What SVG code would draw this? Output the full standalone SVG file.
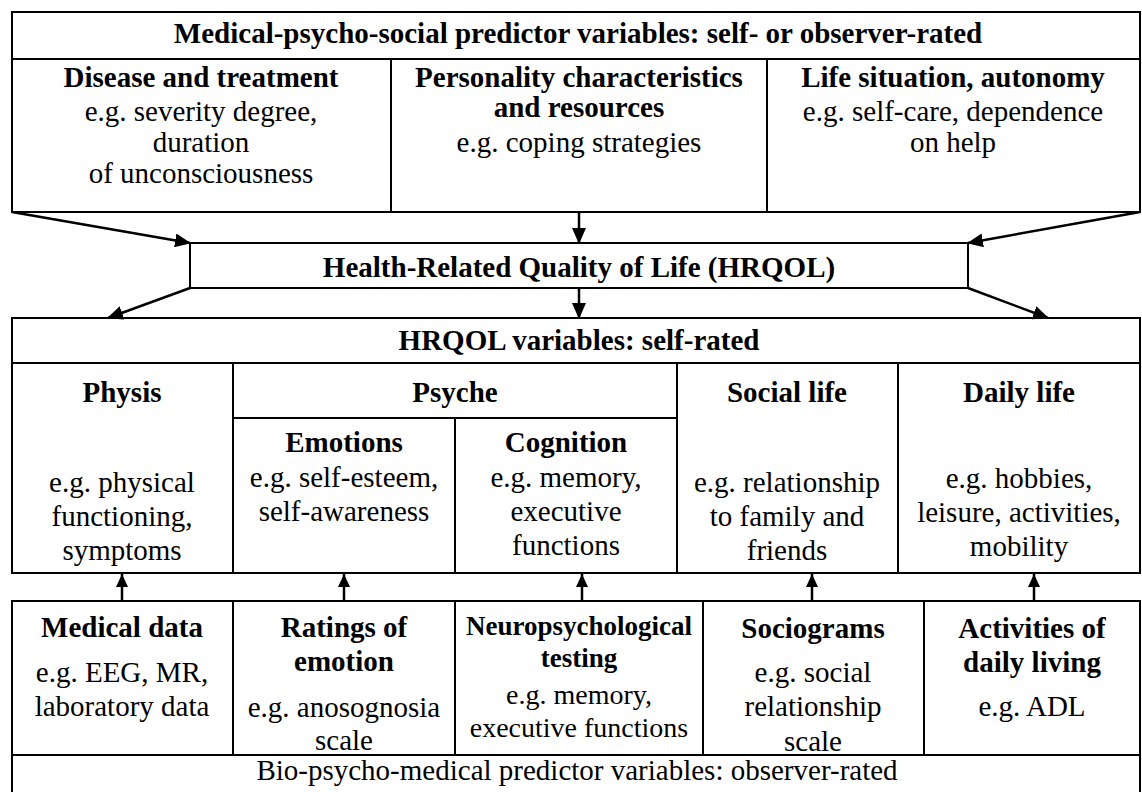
<svg xmlns="http://www.w3.org/2000/svg" width="1142" height="792" viewBox="0 0 1142 792">
<style>
text{font-family:"Liberation Serif","Times New Roman",serif;font-size:29px;text-anchor:middle;fill:#000}
.b{font-weight:bold}
.s{font-size:27px}
.m{font-size:28px}
.box{fill:#fff;stroke:#000;stroke-width:2}
.ln{stroke:#000;stroke-width:2;fill:none}
.con{stroke:#000;stroke-width:2.5;fill:none}
</style>
<defs>
<marker id="ah" markerUnits="userSpaceOnUse" markerWidth="16" markerHeight="14" refX="15" refY="7" orient="auto">
<path d="M0,0 L16,7 L0,14 z" fill="#000"/>
</marker>
<marker id="ahs" markerUnits="userSpaceOnUse" markerWidth="13" markerHeight="12" refX="13" refY="6" orient="auto">
<path d="M0,0 L13,6 L0,12 z" fill="#000"/>
</marker>
</defs>

<g id="top-predictors">
<rect class="box" x="12" y="12" width="1128" height="200"/>
<line class="ln" x1="12" y1="59" x2="1140" y2="59"/>
<line class="ln" x1="391" y1="59" x2="391" y2="212"/>
<line class="ln" x1="767" y1="59" x2="767" y2="212"/>
<text class="b" x="578" y="43">Medical-psycho-social predictor variables: self- or observer-rated</text>
</g>
<g id="disease">
<text class="b" x="201" y="87">Disease and treatment</text>
<text x="201" y="121">e.g. severity degree,</text>
<text x="201" y="152">duration</text>
<text x="201" y="183">of unconsciousness</text>
</g>
<g id="personality">
<text class="b" x="579" y="87">Personality characteristics</text>
<text class="b" x="579" y="117">and resources</text>
<text x="579" y="152">e.g. coping strategies</text>
</g>
<g id="life-situation">
<text class="b" x="953" y="87">Life situation, autonomy</text>
<text x="953" y="121">e.g. self-care, dependence</text>
<text x="953" y="152">on help</text>
</g>

<g id="hrqol">
<rect class="box" x="190" y="243" width="778" height="45"/>
<text class="b" x="579" y="277">Health-Related Quality of Life (HRQOL)</text>
</g>

<g id="hrqol-variables">
<rect class="box" x="12" y="318" width="1128" height="255"/>
<line class="ln" x1="12" y1="363" x2="1140" y2="363"/>
<line class="ln" x1="233" y1="363" x2="233" y2="573"/>
<line class="ln" x1="677" y1="363" x2="677" y2="573"/>
<line class="ln" x1="898" y1="363" x2="898" y2="573"/>
<line class="ln" x1="233" y1="418" x2="677" y2="418"/>
<line class="ln" x1="455" y1="418" x2="455" y2="573"/>
<text class="b" x="579" y="350">HRQOL variables: self-rated</text>
</g>
<g id="physis">
<text class="b" x="122" y="402">Physis</text>
<text x="122" y="492">e.g. physical</text>
<text x="122" y="526">functioning,</text>
<text x="122" y="560">symptoms</text>
</g>
<g id="psyche">
<text class="b" x="455" y="402">Psyche</text>
</g>
<g id="emotions">
<text class="b" x="344" y="452">Emotions</text>
<text x="344" y="487">e.g. self-esteem,</text>
<text x="344" y="521">self-awareness</text>
</g>
<g id="cognition">
<text class="b" x="566" y="452">Cognition</text>
<text x="566" y="487">e.g. memory,</text>
<text x="566" y="521">executive</text>
<text x="566" y="555">functions</text>
</g>
<g id="social-life">
<text class="b" x="787" y="402">Social life</text>
<text x="787" y="492">e.g. relationship</text>
<text x="787" y="526">to family and</text>
<text x="787" y="560">friends</text>
</g>
<g id="daily-life">
<text class="b" x="1019" y="402">Daily life</text>
<text x="1019" y="488">e.g. hobbies,</text>
<text x="1019" y="522">leisure, activities,</text>
<text x="1019" y="556">mobility</text>
</g>

<g id="bio-predictors">
<rect class="box" x="12" y="601" width="1128" height="200"/>
<line class="ln" x1="12" y1="755" x2="1140" y2="755"/>
<line class="ln" x1="233" y1="601" x2="233" y2="755"/>
<line class="ln" x1="455" y1="601" x2="455" y2="755"/>
<line class="ln" x1="703" y1="601" x2="703" y2="755"/>
<line class="ln" x1="924" y1="601" x2="924" y2="755"/>
<text x="577" y="780">Bio-psycho-medical predictor variables: observer-rated</text>
</g>
<g id="medical-data">
<text class="b" x="122" y="637">Medical data</text>
<text x="122" y="682">e.g. EEG, MR,</text>
<text x="122" y="716">laboratory data</text>
</g>
<g id="ratings-emotion">
<text class="b" x="344" y="637">Ratings of</text>
<text class="b" x="344" y="671">emotion</text>
<text x="344" y="717">e.g. anosognosia</text>
<text x="344" y="750">scale</text>
</g>
<g id="neuropsych">
<text class="b s" x="579" y="635">Neuropsychological</text>
<text class="b s" x="579" y="667">testing</text>
<text class="m" x="579" y="704">e.g. memory,</text>
<text class="m" x="579" y="737">executive functions</text>
</g>
<g id="sociograms">
<text class="b" x="813" y="638">Sociograms</text>
<text x="813" y="682">e.g. social</text>
<text x="813" y="716">relationship</text>
<text x="813" y="751">scale</text>
</g>
<g id="adl">
<text class="b" x="1032" y="638">Activities of</text>
<text class="b" x="1032" y="672">daily living</text>
<text x="1032" y="716">e.g. ADL</text>
</g>

<g id="connectors">
<line class="con" x1="12" y1="212" x2="190" y2="243" marker-end="url(#ah)"/>
<line class="con" x1="1140" y1="212" x2="968" y2="243" marker-end="url(#ah)"/>
<line class="con" x1="579" y1="212" x2="579" y2="243" marker-end="url(#ah)"/>
<line class="con" x1="190" y1="288" x2="108" y2="318" marker-end="url(#ah)"/>
<line class="con" x1="579" y1="288" x2="579" y2="318" marker-end="url(#ah)"/>
<line class="con" x1="968" y1="288" x2="1048" y2="318" marker-end="url(#ah)"/>
<line class="con" x1="122" y1="601" x2="122" y2="574" marker-end="url(#ahs)"/>
<line class="con" x1="344" y1="601" x2="344" y2="574" marker-end="url(#ahs)"/>
<line class="con" x1="582" y1="601" x2="582" y2="574" marker-end="url(#ahs)"/>
<line class="con" x1="812" y1="601" x2="812" y2="574" marker-end="url(#ahs)"/>
<line class="con" x1="1034" y1="601" x2="1034" y2="574" marker-end="url(#ahs)"/>
</g>
</svg>
